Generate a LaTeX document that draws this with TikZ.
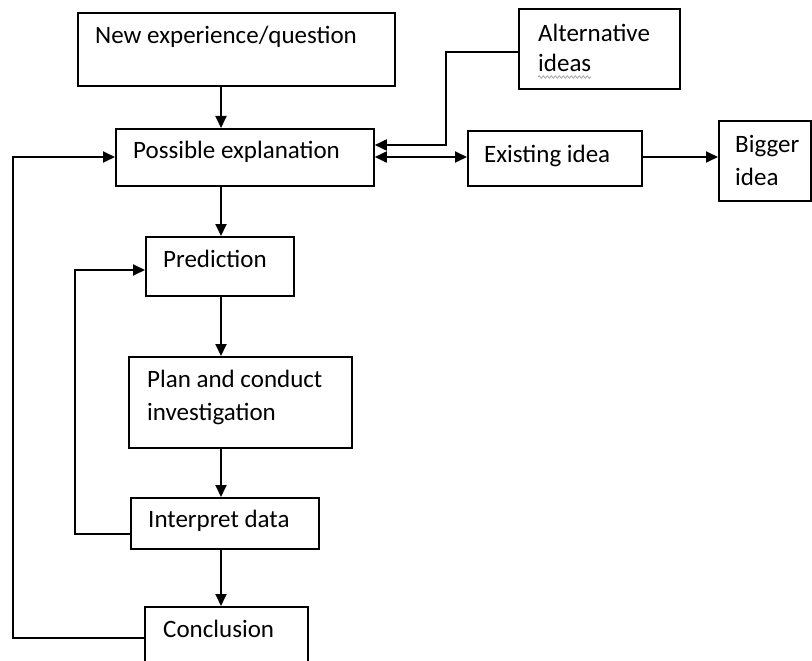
\documentclass[tikz,border=0pt]{standalone}
\usepackage{fontspec}
\setmainfont{Carlito}
\usetikzlibrary{arrows.meta,decorations.pathmorphing}
\begin{document}
\begin{tikzpicture}[x=1pt,y=-1pt,
  box/.style={draw, line width=1.8pt, rectangle, inner sep=0pt, anchor=north west},
  txt/.style={font=\fontsize{25}{31}\selectfont, anchor=base west, inner sep=0pt, align=left},
  conn/.style={line width=1.8pt},
  arr/.style={conn, -{Triangle[length=12pt,width=11pt]}},
  darr/.style={conn, {Triangle[length=12pt,width=11pt]}-{Triangle[length=12pt,width=11pt]}},
]
\useasboundingbox (0,0) rectangle (812,661);
\clip (0,0) rectangle (812,661);
\fill[white] (0,0) rectangle (812,661);

% boxes
\node[box, minimum width=317pt, minimum height=73pt] (new) at (77,12) {};
\node[box, minimum width=258pt, minimum height=57pt] (pos) at (115,128) {};
\node[box, minimum width=161pt, minimum height=80pt] (alt) at (518,8) {};
\node[box, minimum width=174pt, minimum height=55pt] (exi) at (467,130) {};
\node[box, minimum width=92pt, minimum height=80pt] (big) at (718,120) {};
\node[box, minimum width=148pt, minimum height=59pt] (pre) at (145,236) {};
\node[box, minimum width=223pt, minimum height=91pt] (pla) at (128,356) {};
\node[box, minimum width=188pt, minimum height=51pt] (int) at (130,497) {};
\node[box, minimum width=163pt, minimum height=64pt] (con) at (144,606) {};

% texts
\node[txt] (tnew) at (95,44) {New experience/question};
\node[txt] (tpos) at (133,158) {Possible explanation};
\node[txt, font=\fontsize{25}{30}\selectfont] (talt) at (538,72) {Alternative\\ideas};
\node[txt] (texi) at (484,162) {Existing idea};
\node[txt, font=\fontsize{25}{33}\selectfont] (tbig) at (735,185) {Bigger\\idea};
\node[txt] (tpre) at (163,267) {Prediction};
\node[txt, font=\fontsize{25}{33}\selectfont] (tpla) at (147,420) {Plan and conduct\\investigation};
\node[txt] (tint) at (148,527) {Interpret data};
\node[txt] (tcon) at (163,637) {Conclusion};

% spellcheck squiggle under "ideas"
\coordinate (sq1) at (538,77);
\coordinate (sq2) at (591,77);
\draw[gray!70, line width=0.8pt, decorate, decoration={snake, amplitude=1.2pt, segment length=4pt}] (sq1) -- (sq2);

% vertical flow
\draw[arr] (new.south -| 221,0) -- (pos.north -| 221,0);
\draw[arr] (pos.south -| 221,0) -- (pre.north -| 221,0);
\draw[arr] (pre.south -| 221,0) -- (pla.north -| 221,0);
\draw[arr] (pla.south -| 221,0) -- (int.north -| 221,0);
\draw[arr] (int.south -| 221,0) -- (con.north -| 221,0);

% side links
\draw[arr] (alt.west |- 0,52) -- (446,52) -- (446,145) -- (pos.east |- 0,145);
\draw[darr] (pos.east |- 0,157) -- (exi.west |- 0,157);
\draw[arr] (exi.east |- 0,157) -- (big.west |- 0,157);

% feedback loops
\draw[arr] (con.west |- 0,638) -- (13,638) -- (13,157) -- (pos.west |- 0,157);
\draw[arr] (int.west |- 0,534) -- (75,534) -- (75,270) -- (pre.west |- 0,270);
\end{tikzpicture}
\end{document}
